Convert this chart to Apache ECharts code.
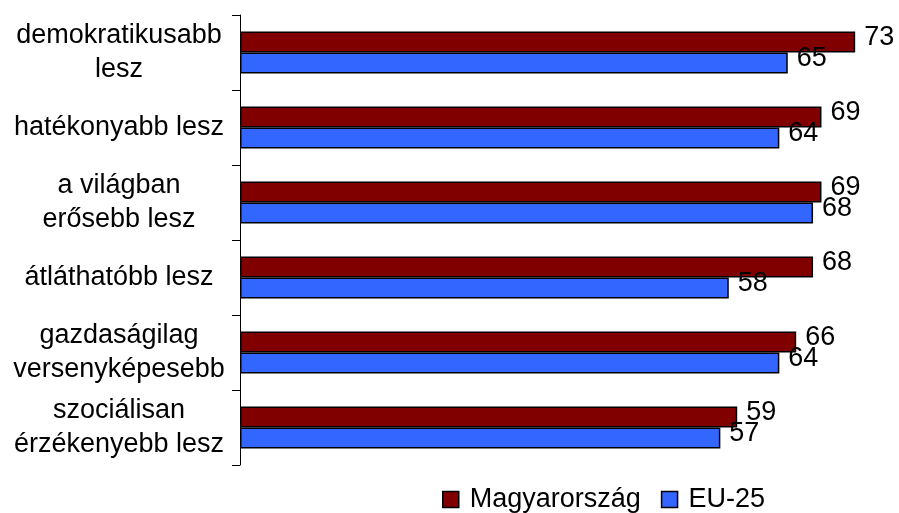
<!DOCTYPE html>
<html>
<head>
<meta charset="utf-8">
<script src="https://cdn.jsdelivr.net/npm/echarts@6/dist/echarts.min.js"></script>
<style>
  html, body { margin: 0; padding: 0; background: #fff; }
  #chart { width: 899px; height: 513px; }
</style>
</head>
<body>
<div id="chart"></div>
<script>
var categories = [
  'demokratikusabb\nlesz',
  'hatékonyabb lesz',
  'a világban\nerősebb lesz',
  'átláthatóbb lesz',
  'gazdaságilag\nversenyképesebb',
  'szociálisan\nérzékenyebb lesz'
]
var magyarorszag = [73, 69, 69, 68, 66, 59]
var eu25 = [65, 64, 68, 58, 64, 57]

var font = 'Liberation Sans, Arial, sans-serif'

var myChart = echarts.init(document.getElementById('chart'))

// value labels sit right of the bar, a bit higher than centre
var valueLabel = {
  show: true,
  position: 'right',
  distance: 9,
  offset: [0, -4],
  color: '#000',
  fontFamily: font,
  fontSize: 27
}

myChart.setOption({
  animation: false,
  legend: {
    top: 481,
    left: 437,
    itemWidth: 16,
    itemHeight: 16,
    itemGap: 20,
    icon: 'rect',
    itemStyle: { borderColor: '#000', borderWidth: 1.5 },
    data: ['Magyarország', 'EU-25'],
    textStyle: {
      color: '#000',
      fontFamily: font,
      fontSize: 27,
      padding: [0, 0, 0, 6]
    }
  },
  grid: {
    left: 240,
    right: 0,
    top: 15,
    bottom: 48
  },
  xAxis: {
    type: 'value',
    min: 0,
    max: 78.2,
    show: false
  },
  yAxis: {
    type: 'category',
    inverse: true,
    data: categories,
    axisLine: {
      show: true,
      lineStyle: { color: '#000', width: 1 }
    },
    axisTick: {
      show: true,
      length: 8,
      lineStyle: { color: '#000' }
    },
    axisLabel: {
      align: 'center',
      margin: 121,
      color: '#000',
      fontFamily: font,
      fontSize: 27,
      lineHeight: 34
    }
  },
  series: [
    {
      name: 'Magyarország',
      type: 'bar',
      barWidth: 21,
      barGap: '0%',
      itemStyle: {
        color: '#800000',
        borderColor: '#000',
        borderWidth: 1.5
      },
      label: valueLabel,
      data: magyarorszag
    },
    {
      name: 'EU-25',
      type: 'bar',
      barWidth: 21,
      barGap: '0%',
      itemStyle: {
        color: '#3366FF',
        borderColor: '#000',
        borderWidth: 1.5
      },
      label: valueLabel,
      data: eu25
    }
  ]
})
</script>
</body>
</html>
